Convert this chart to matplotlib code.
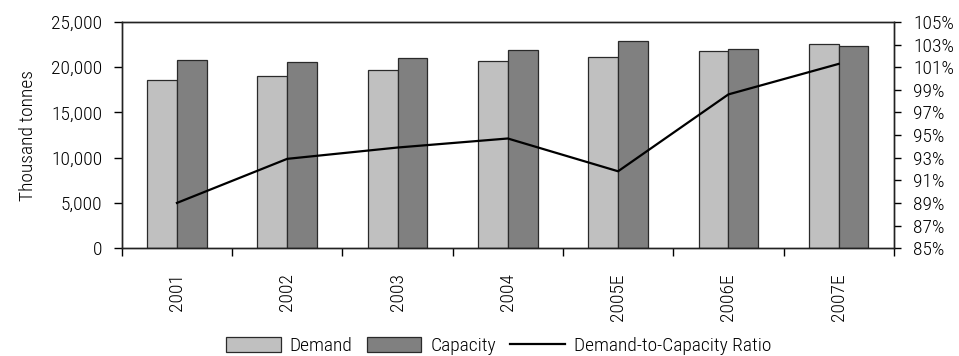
import matplotlib
matplotlib.use("Agg")
import matplotlib.pyplot as plt
from matplotlib import font_manager
import numpy as np
from matplotlib.ticker import FuncFormatter, FixedLocator

# try a narrow sans first, the original uses a condensed Helvetica-like face
names = {f.name for f in font_manager.fontManager.ttflist}
narrow = [n for n in ['Liberation Sans Narrow', 'Roboto Condensed', 'Open Sans Condensed',
                      'DejaVu Sans Condensed'] if n in names]
plt.rcParams['font.family'] = narrow + ['Liberation Sans', 'DejaVu Sans']
plt.rcParams['font.weight'] = 'light'
plt.rcParams['axes.labelweight'] = 'light'
if not narrow:
    plt.rcParams['font.stretch'] = 'condensed'

years = ['2001', '2002', '2003', '2004', '2005E', '2006E', '2007E']
demand = [18550, 18990, 19650, 20720, 21170, 21830, 22530]
capacity = [20760, 20580, 20980, 21870, 22940, 22050, 22310]
ratio = [89.0, 92.9, 93.9, 94.7, 91.8, 98.6, 101.3]

fs = 14
w = 0.27
x = np.arange(len(years))

fig = plt.figure(figsize=(9.59, 3.56), dpi=100)
ax = fig.add_axes([0.127, 0.303, 0.805, 0.635])

ax.bar(x - w/2, demand, w, color='#C0C0C0', edgecolor='#2a2a2a', linewidth=0.9, label='Demand')
ax.bar(x + w/2, capacity, w, color='#808080', edgecolor='#2a2a2a', linewidth=0.9, label='Capacity')
ax.set_xlim(-0.5, len(years) - 0.5)
ax.set_ylim(0, 25000)
ax.set_yticks(np.arange(0, 25001, 5000))
ax.yaxis.set_major_formatter(FuncFormatter(lambda v, p: f'{int(v):,}'))
ax.set_ylabel('Thousand tonnes', fontsize=fs, labelpad=10)
ax.tick_params(axis='y', labelsize=fs, direction='out', length=6, width=1, pad=8)

ax.set_xticks(x)
ax.set_xticklabels(years, rotation=90, fontsize=fs)
ax.tick_params(axis='x', which='major', length=0, pad=18)
ax.xaxis.set_minor_locator(FixedLocator(np.arange(-0.5, len(years), 1.0)))
ax.tick_params(axis='x', which='minor', direction='out', length=6, width=1)

ax2 = ax.twinx()
ax2.plot(x, ratio, color='black', linewidth=1.6, label='Demand-to-Capacity Ratio')
ax2.set_ylim(85, 105)
ax2.set_yticks(np.arange(85, 106, 2))
ax2.yaxis.set_major_formatter(FuncFormatter(lambda v, p: f'{int(v)}%'))
ax2.tick_params(axis='y', labelsize=fs, direction='out', length=5, width=1, pad=9)

for a in (ax, ax2):
    for s in a.spines.values():
        s.set_linewidth(1)
        s.set_color('#222222')

h1, l1 = ax.get_legend_handles_labels()
h2, l2 = ax2.get_legend_handles_labels()
fig.legend(h1 + h2, l1 + l2, loc='center', bbox_to_anchor=(0.52, 0.028), ncol=3,
           frameon=False, fontsize=fs, handlelength=2.8, handleheight=0.8,
           handletextpad=0.45, columnspacing=0.75, borderpad=0)

fig.savefig('out.png', dpi=100)
